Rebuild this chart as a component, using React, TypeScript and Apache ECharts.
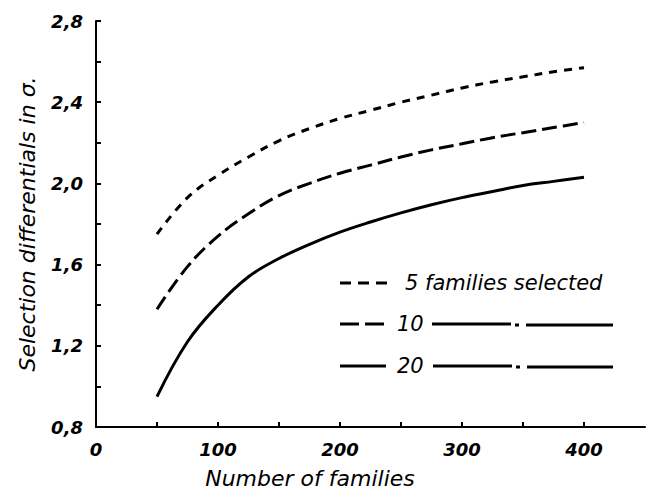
import React, { useEffect, useRef } from "react";
import * as echarts from "echarts";

const families = [50, 75, 100, 125, 150, 175, 200, 225, 250, 275, 300, 325, 350, 375, 400];
const sel5 = [1.75, 1.93, 2.04, 2.13, 2.21, 2.27, 2.32, 2.36, 2.4, 2.435, 2.47, 2.5, 2.525, 2.55, 2.57];
const sel10 = [1.38, 1.59, 1.74, 1.85, 1.94, 2.0, 2.05, 2.09, 2.13, 2.165, 2.195, 2.225, 2.25, 2.275, 2.3];
const sel20 = [0.95, 1.22, 1.4, 1.54, 1.63, 1.7, 1.76, 1.81, 1.855, 1.895, 1.93, 1.96, 1.99, 2.01, 2.03];

const xTickValues = [0, 50, 100, 150, 200, 250, 300, 350, 400];
const xLabelValues = [0, 100, 200, 300, 400];
const yTickValues = [0.8, 1.0, 1.2, 1.4, 1.6, 1.8, 2.0, 2.2, 2.4, 2.6, 2.8];
const yLabelValues = [0.8, 1.2, 1.6, 2.0, 2.4, 2.8];

const FONT = "DejaVu Sans";

export default function App() {
  const ref = useRef<HTMLDivElement>(null);
  useEffect(() => {
    document.body.style.margin = "0";
    if (!ref.current) return;
    const chart = echarts.init(ref.current, null, { renderer: "svg" });
    const pair = (ys: number[]) => families.map((x, i) => [x, ys[i]]);
    const textStyle = {
      fontFamily: FONT,
      fontStyle: "italic" as const,
      color: "#000",
    };
    const legendLine = (x1: number, x2: number, y: number, dash: any) => ({
      type: "line",
      shape: { x1, y1: y, x2, y2: y },
      style: { stroke: "#000", lineWidth: 3, lineDash: dash },
    });
    const legendText = (x: number, y: number, text: string) => ({
      type: "text",
      x,
      y,
      style: {
        text,
        font: `italic 21px "${FONT}"`,
        fill: "#000",
        align: "left",
        verticalAlign: "middle",
      },
    });
    chart.setOption({
      animation: false,
      backgroundColor: "#fff",
      grid: { left: 96, right: 4, top: 21, bottom: 65, outerBoundsMode: "none" },
      xAxis: {
        type: "value",
        min: 0,
        max: 450,
        interval: 50,
        splitLine: { show: false },
        axisLine: { lineStyle: { color: "#000", width: 2 } },
        axisTick: {
          inside: true,
          length: 5,
          lineStyle: { color: "#000", width: 2 },
          customValues: xTickValues,
        },
        axisLabel: {
          ...textStyle,
          fontSize: 18,
          fontWeight: "bold",
          margin: 13,
          customValues: xLabelValues,
        },
      },
      yAxis: {
        type: "value",
        min: 0.8,
        max: 2.8,
        interval: 0.2,
        name: "Selection differentials in σ.",
        nameLocation: "middle",
        nameGap: 58,
        nameTextStyle: { ...textStyle, fontSize: 22 },
        splitLine: { show: false },
        axisLine: { lineStyle: { color: "#000", width: 2 } },
        axisTick: {
          inside: true,
          length: 5,
          lineStyle: { color: "#000", width: 2 },
          customValues: yTickValues,
        },
        axisLabel: {
          ...textStyle,
          fontSize: 18,
          fontWeight: "bold",
          margin: 13,
          customValues: yLabelValues,
          formatter: (v: number) => v.toFixed(1).replace(".", ","),
        },
      },
      series: [
        {
          type: "line",
          name: "5",
          data: pair(sel5),
          smooth: 0.4,
          symbol: "none",
          lineStyle: { color: "#000", width: 3, type: [8, 7] },
        },
        {
          type: "line",
          name: "10",
          data: pair(sel10),
          smooth: 0.4,
          symbol: "none",
          lineStyle: { color: "#000", width: 3, type: [15, 6] },
        },
        {
          type: "line",
          name: "20",
          data: pair(sel20),
          smooth: 0.4,
          symbol: "none",
          lineStyle: { color: "#000", width: 3 },
        },
      ],
      graphic: [
        {
          type: "text",
          x: 310,
          y: 478,
          style: {
            text: "Number of families",
            font: `italic 22px "${FONT}"`,
            fill: "#000",
            align: "center",
            verticalAlign: "middle",
          },
        },
        legendLine(340, 392, 283, [11, 7]),
        legendText(405, 283, "5 families selected"),
        legendLine(340, 386, 324, [19, 6]),
        legendText(397, 324, "10"),
        legendLine(432, 511, 324, null),
        legendLine(515, 519, 325, null),
        legendLine(526, 613, 325, null),
        legendLine(340, 386, 366, null),
        legendText(397, 366, "20"),
        legendLine(433, 512, 366, null),
        legendLine(516, 520, 367, null),
        legendLine(527, 613, 367, null),
      ],
    });
    return () => chart.dispose();
  }, []);
  return <div ref={ref} style={{ width: 649, height: 492 }} />;
}
